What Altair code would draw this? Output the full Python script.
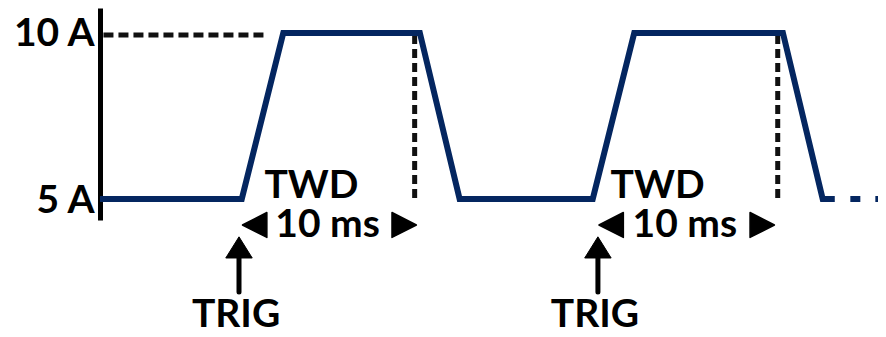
import altair as alt
import pandas as pd

# ---- values (time in ms, current in A) ----
wave_t = [0.0, 8.2, 10.6, 18.5, 20.8, 28.5, 30.9, 39.5, 41.8, 42.5]
wave_a = [5, 5, 10, 10, 5, 5, 10, 10, 5, 5]
tail_t = [43.4, 45.5]          # dashed continuation of the waveform
tail_a = [5, 5]

ref_h_t = [0.2, 9.7]           # dashed 10 A reference line
ref_h_a = [9.94, 9.94]
twd_end_t = [18.2, 39.2]       # dashed vertical markers at end of TWD
twd_top_a = 9.94
twd_bot_a = 4.9

trig_t = [8.04, 28.8]          # TRIG arrows
trig_shaft_bot = 2.2
trig_shaft_top = 3.45
trig_head_a = 3.545
trig_label_t = [7.87, 28.63]
trig_label_a = 1.15

twd_label_t = [12.23, 32.25]
twd_label_a = 5.035
ms_label_t = [13.16, 33.83]
ms_label_a = 3.86
tri_left_t = [8.96, 29.58]
tri_right_t = [17.58, 38.29]
tri_a = 4.22

y_ticks = [5, 10]
x_domain = [0, 45]
y_domain = [4.37, 10.75]

NAVY = "#042660"
FONT = "Lato"
FS = 39
FW = "bold"

xs = alt.Scale(domain=x_domain, nice=False, zero=False)
ys = alt.Scale(domain=y_domain, nice=False, zero=False)

wave_df = pd.DataFrame({"t": wave_t, "a": wave_a, "o": range(len(wave_t))})
tail_df = pd.DataFrame({"t": tail_t, "a": tail_a})
refh_df = pd.DataFrame({"t": ref_h_t, "a": ref_h_a})
vdash_df = pd.DataFrame({"t": twd_end_t, "a1": [twd_top_a] * 2, "a2": [twd_bot_a] * 2})
shaft_df = pd.DataFrame({"t": trig_t, "a1": [trig_shaft_bot] * 2, "a2": [trig_shaft_top] * 2})
head_df = pd.DataFrame({"t": trig_t, "a": [trig_head_a] * 2})
tl_df = pd.DataFrame({"t": tri_left_t, "a": [tri_a] * 2})
tr_df = pd.DataFrame({"t": tri_right_t, "a": [tri_a] * 2})
text_df = pd.DataFrame({
    "t": twd_label_t + ms_label_t + trig_label_t,
    "a": [twd_label_a] * 2 + [ms_label_a] * 2 + [trig_label_a] * 2,
    "label": ["TWD", "TWD", "10 ms", "10 ms", "TRIG", "TRIG"],
})

# base layer carrying the y axis (5 A / 10 A)
axis_layer = alt.Chart(refh_df).mark_line(
    stroke="#111111", strokeWidth=5, strokeDash=[10, 5]
).encode(
    x=alt.X("t:Q", scale=xs, axis=None),
    y=alt.Y("a:Q", scale=ys, axis=alt.Axis(
        values=y_ticks, labelExpr="datum.value + ' A'", title=None,
        grid=False, ticks=False, domain=True, domainColor="black",
        domainWidth=5, labelFont=FONT, labelFontSize=FS, labelFontWeight=FW,
        labelColor="black", labelPadding=6, labelOffset=1,
    )),
)

vdash = alt.Chart(vdash_df).mark_rule(
    stroke="#111111", strokeWidth=5, strokeDash=[9, 5]
).encode(x=alt.X("t:Q", scale=xs), y=alt.Y("a1:Q", scale=ys), y2="a2:Q")

wave = alt.Chart(wave_df).mark_line(
    stroke=NAVY, strokeWidth=6, strokeJoin="miter"
).encode(x=alt.X("t:Q", scale=xs), y=alt.Y("a:Q", scale=ys), order="o:Q")

tail = alt.Chart(tail_df).mark_line(
    stroke=NAVY, strokeWidth=6, strokeDash=[10, 15]
).encode(x=alt.X("t:Q", scale=xs), y=alt.Y("a:Q", scale=ys))

shaft = alt.Chart(shaft_df).mark_rule(
    stroke="black", strokeWidth=5, strokeCap="round"
).encode(x=alt.X("t:Q", scale=xs), y=alt.Y("a1:Q", scale=ys), y2="a2:Q")

head = alt.Chart(head_df).mark_point(
    shape="M0,-0.8L1,0.8L-1,0.8Z", filled=True, fill="black", opacity=1,
    size=700, strokeWidth=1, stroke="black", strokeJoin="round"
).encode(x=alt.X("t:Q", scale=xs), y=alt.Y("a:Q", scale=ys))

tri_l = alt.Chart(tl_df).mark_point(
    shape="M-1,0L0.96,-1L0.96,1Z", filled=True, fill="black", opacity=1,
    size=620, stroke="black", strokeWidth=1.5, strokeJoin="round"
).encode(x=alt.X("t:Q", scale=xs), y=alt.Y("a:Q", scale=ys))

tri_r = alt.Chart(tr_df).mark_point(
    shape="M1,0L-0.96,-1L-0.96,1Z", filled=True, fill="black", opacity=1,
    size=620, stroke="black", strokeWidth=1.5, strokeJoin="round"
).encode(x=alt.X("t:Q", scale=xs), y=alt.Y("a:Q", scale=ys))

texts = alt.Chart(text_df).mark_text(
    font=FONT, fontSize=FS, fontWeight=FW, color="black",
    align="center", baseline="alphabetic"
).encode(x=alt.X("t:Q", scale=xs), y=alt.Y("a:Q", scale=ys), text="label:N")

chart = alt.layer(
    axis_layer, vdash, wave, tail, shaft, head, tri_l, tri_r, texts
).properties(
    width=778, height=212,
    autosize=alt.AutoSizeParams(type="none"),
    padding={"left": 92, "top": 0, "right": 0, "bottom": 117},
    background="white",
).configure_view(stroke=None)

chart.save("out.html", embed_options={"renderer": "svg", "actions": False})
